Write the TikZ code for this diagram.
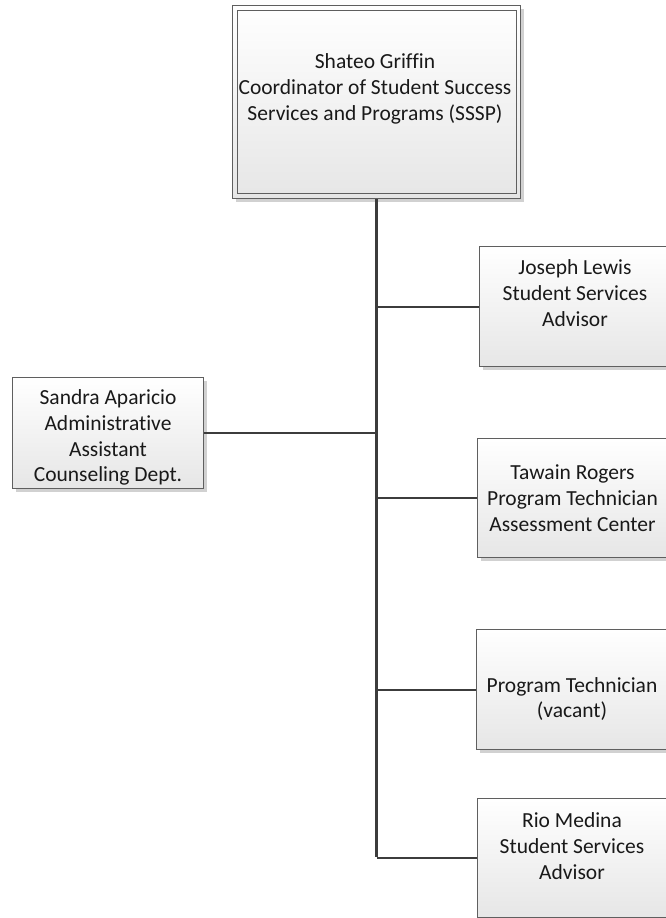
\documentclass[tikz,border=0pt]{standalone}
\usepackage{fontspec}
\setmainfont[Ligatures={NoCommon}]{Carlito}
\usetikzlibrary{shadows}
\definecolor{bordergray}{HTML}{5F5F5F}
\definecolor{linegray}{HTML}{3C3C3C}
\definecolor{fillbottom}{HTML}{E6E6E6}
\tikzset{
  box/.style={draw=bordergray, line width=1.3pt, top color=white, bottom color=fillbottom,
    inner sep=0pt, anchor=north west, minimum width=191pt, minimum height=120pt,
    drop shadow={shadow xshift=3pt, shadow yshift=-3.5pt, fill=black!18, opacity=1}},
  innerbox/.style={draw=bordergray, line width=1.3pt, inner sep=0pt, anchor=north west, fill=none},
  txt/.style={align=center, font=\fontsize{21.5}{25.8}\selectfont, text=black!90, inner sep=0pt},
  trunk/.style={draw=linegray, line width=3pt},
  branch/.style={draw=linegray, line width=2.3pt}
}
\begin{document}
\begin{tikzpicture}[x=1pt,y=-1pt]
\useasboundingbox (0,0) rectangle (665,918);
% boxes
\node[box, minimum width=288pt, minimum height=193pt] (boss) at (232,5) {};
\node[innerbox, minimum width=279pt, minimum height=183pt] (bossin) at (237,10) {};
\node[box, minimum height=111pt] (sandra) at (12,377) {};
\node[box, minimum width=192pt] (joseph) at (479,246) {};
\node[box, minimum height=119pt] (tawain) at (477,438) {};
\node[box] (ptech) at (476,629) {};
\node[box, minimum height=119pt] (rio) at (477,798) {};
% texts
\node[txt] (bosst) at (375,89) {Shateo Griffin\\Coordinator of Student Success\\Services and Programs (SSSP)};
\node[txt] (sandrat) at (108,437.5) {Sandra Aparicio\\Administrative\\Assistant\\Counseling Dept.};
\node[txt] (josepht) at (575,293) {Joseph Lewis\\Student Services\\Advisor};
\node[txt] (tawaint) at (572.5,498) {Tawain Rogers\\Program Technician\\Assessment Center};
\node[txt] (ptecht) at (572,699) {Program Technician\\(vacant)};
\node[txt] (riot) at (572,846) {Rio Medina\\Student Services\\Advisor};
% connectors
\coordinate (jpt) at (joseph.west -| boss.south);
\coordinate (spt) at (sandra.east -| boss.south);
\coordinate (tpt) at (tawain.west -| boss.south);
\coordinate (ppt) at (ptech.west -| boss.south);
\coordinate (rpt) at (rio.west -| boss.south);
\draw[branch] (jpt) -- (joseph.west);
\draw[branch] (spt) -- (sandra.east);
\draw[branch] (tpt) -- (tawain.west);
\draw[branch] (ppt) -- (ptech.west);
\draw[branch] (rpt) -- (rio.west);
\draw[trunk] (boss.south) -- ([yshift=1.1pt]rpt);
\end{tikzpicture}
\end{document}
